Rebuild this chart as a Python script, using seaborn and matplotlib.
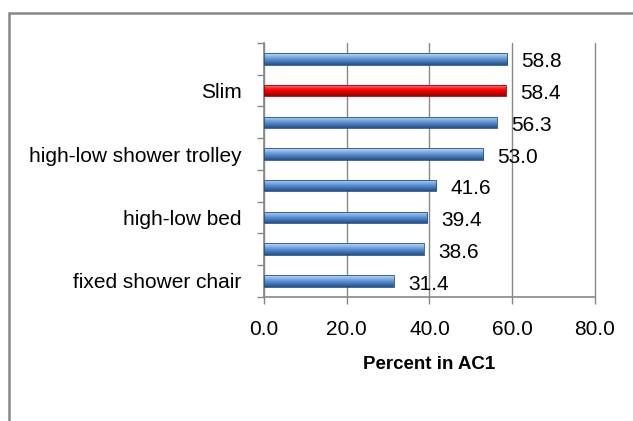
import numpy as np
import pandas as pd
import seaborn as sns
import matplotlib.pyplot as plt
from matplotlib.colors import LinearSegmentedColormap
from matplotlib.patches import Rectangle

# data, top to bottom as drawn
items = ["a", "Slim", "b", "high-low shower trolley", "c", "high-low bed", "d", "fixed shower chair"]
tick_labels = ["", "Slim", "", "high-low shower trolley", "", "high-low bed", "", "fixed shower chair"]
values = [58.8, 58.4, 56.3, 53.0, 41.6, 39.4, 38.6, 31.4]
highlight = [False, True, False, False, False, False, False, False]

sns.set_style("white")
plt.rcParams['font.family'] = ['Liberation Sans', 'DejaVu Sans']
fs = 15

df = pd.DataFrame({"item": items, "value": values})

fig = plt.figure(figsize=(6.33, 4.21), dpi=100)
ax = fig.add_axes([0.417, 0.295, 0.523, 0.603])

sns.barplot(data=df, x="value", y="item", orient="h", color="#4F81BD",
            width=0.36, ax=ax, zorder=3)

blue_cm = LinearSegmentedColormap.from_list("b", ["#C5DCF5", "#8FB8E8", "#5F93D3", "#3F72B0", "#25508A"])
red_cm = LinearSegmentedColormap.from_list("r", ["#FFB0B0", "#FF4040", "#F80000", "#D00000", "#950000"])
grad = np.linspace(0, 1, 64).reshape(-1, 1)

# gradient fill clipped to each bar
for p, hl in zip(ax.patches, highlight):
    x0, y0 = p.get_x(), p.get_y()
    w, h = p.get_width(), p.get_height()
    im = ax.imshow(grad, cmap=red_cm if hl else blue_cm, aspect="auto",
                   extent=[x0, x0 + w, y0 + h, y0], origin="upper", zorder=4)
    im.set_clip_path(p)
    p.set_edgecolor("#25508A" if not hl else "#950000")
    p.set_linewidth(0.6)
    p.set_zorder(5)
    p.set_facecolor("none")

for i, v in enumerate(values):
    ax.text(v + 3.4, i + 0.1, f"{v:.1f}", va="center", ha="left", fontsize=fs, color="black", zorder=6)

ax.set_xlim(0, 80)
ax.set_ylim(7.5, -0.5)
ax.set_xticks([0, 20, 40, 60, 80])
ax.set_xticklabels([f"{t:.1f}" for t in [0, 20, 40, 60, 80]], fontsize=fs, color="black")
ax.set_yticks(range(len(items)))
ax.set_yticklabels(tick_labels, fontsize=fs, color="black")
ax.set_yticks(np.arange(-0.5, 8, 1), minor=True)
ax.tick_params(axis="y", which="major", length=0, pad=16, left=False)
ax.tick_params(axis="y", which="minor", length=5, color="#888888", direction="out", width=1, left=True)
ax.tick_params(axis="x", length=5, color="#888888", direction="out", width=1, pad=12, bottom=True)
ax.set_xlabel("Percent in AC1", fontsize=13.5, fontweight="bold", labelpad=12, color="black")
ax.set_ylabel("")
ax.xaxis.grid(True, color="#888888", linewidth=1, zorder=0)
for gl in ax.get_xgridlines():
    gl.set_clip_on(False)
ax.set_axisbelow(True)
for s in ["top", "right"]:
    ax.spines[s].set_visible(False)
for s in ["left", "bottom"]:
    ax.spines[s].set_color("#888888")
    ax.spines[s].set_linewidth(1.2)

# outer chart frame
fig.patches.append(Rectangle((9 / 633, -0.1), 1.1, 0.969 + 0.1, transform=fig.transFigure,
                             fill=False, edgecolor="#888888", linewidth=1.8))

fig.savefig("out.png", dpi=100)
